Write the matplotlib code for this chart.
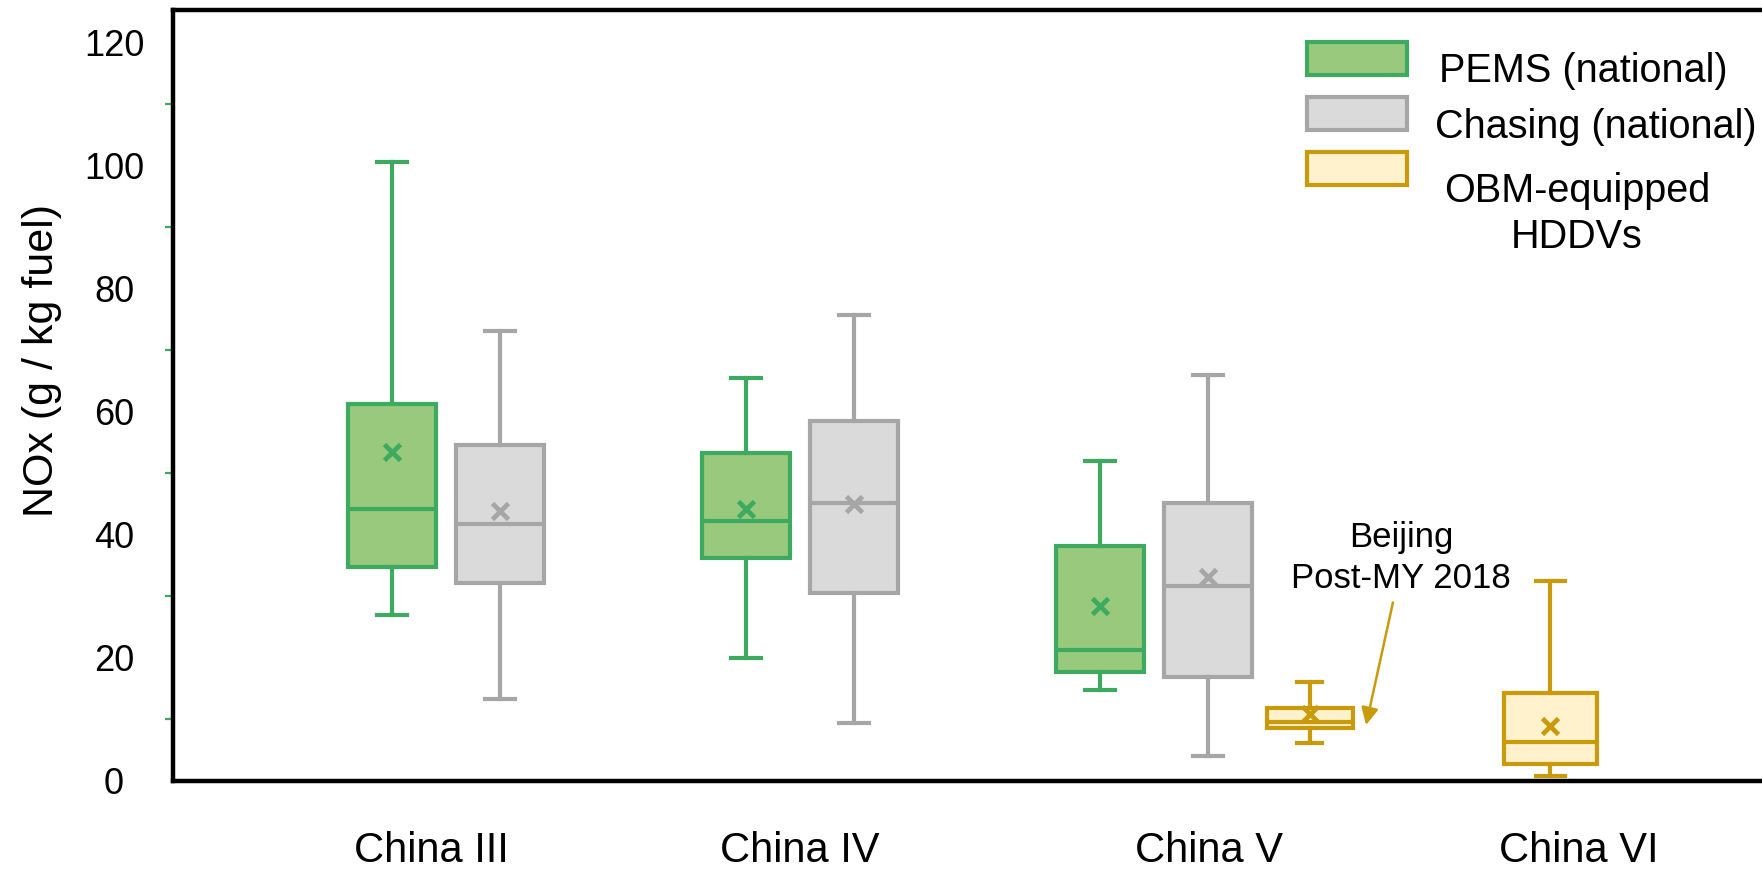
import matplotlib.pyplot as plt
from matplotlib.patches import Rectangle
from matplotlib.ticker import FixedLocator

plt.rcParams['font.family'] = ['Liberation Sans', 'DejaVu Sans']

categories = ['China III', 'China IV', 'China V', 'China VI']

# NOx emission factors, g / kg fuel
# PEMS (national): China III, IV, V
pems_whislo = [27.0, 19.9, 14.8]
pems_q1 = [34.7, 36.2, 17.7]
pems_med = [44.1, 42.3, 21.2]
pems_q3 = [61.3, 53.2, 38.1]
pems_whishi = [100.5, 65.5, 51.9]
pems_mean = [53.5, 44.1, 28.4]

# Chasing (national): China III, IV, V
chase_whislo = [13.3, 9.4, 4.1]
chase_q1 = [32.1, 30.6, 16.9]
chase_med = [41.7, 45.1, 31.6]
chase_q3 = [54.6, 58.5, 45.2]
chase_whishi = [73.1, 75.6, 66.0]
chase_mean = [43.8, 44.9, 33.1]

# OBM-equipped HDDVs: Beijing post-MY 2018 China V, China VI
obm_whislo = [6.1, 0.8]
obm_q1 = [8.6, 2.7]
obm_med = [9.5, 6.3]
obm_q3 = [11.8, 14.3]
obm_whishi = [16.1, 32.4]
obm_mean = [10.8, 9.0]

series_labels = ['PEMS (national)', 'Chasing (national)', 'OBM-equipped\nHDDVs']

# colours
pems_edge, pems_fill = '#3DAA5F', '#98C97C'
chase_edge, chase_fill = '#A6A6A6', '#DADADB'
obm_edge, obm_fill = '#C89A0C', '#FFF2CC'

# layout
group_x = [1.0, 2.0, 3.0]
offset = 0.1525
pems_x = [g - offset for g in group_x]
chase_x = [g + offset for g in group_x]
obm_x = [3.44, 4.12]
label_x = [0.96, 2.0, 3.155, 4.2]


def make_stats(lo, q1, med, q3, hi, mean):
    return [dict(whislo=a, q1=b, med=c, q3=d, whishi=e, mean=f, fliers=[])
            for a, b, c, d, e, f in zip(lo, q1, med, q3, hi, mean)]


def draw_boxes(ax, stats, pos, widths, capw, edge, fill):
    lw = 3.0
    ax.bxp(stats, positions=pos, widths=widths, capwidths=capw,
           patch_artist=True, showmeans=True, showfliers=False,
           manage_ticks=False,
           boxprops=dict(facecolor=fill, edgecolor=edge, linewidth=lw),
           whiskerprops=dict(color=edge, linewidth=lw),
           capprops=dict(color=edge, linewidth=lw),
           medianprops=dict(color=edge, linewidth=lw),
           meanprops=dict(marker='x', markeredgecolor=edge,
                          markersize=11, markeredgewidth=3.4))


W, H = 1762, 869
fig = plt.figure(figsize=(W / 100, H / 100), dpi=100)
ax_l, ax_r, ax_t, ax_b = 173, 1762, 10, 781
ax = fig.add_axes([ax_l / W, (H - ax_b) / H, (ax_r - ax_l) / W, (ax_b - ax_t) / H])

draw_boxes(ax, make_stats(pems_whislo, pems_q1, pems_med, pems_q3, pems_whishi, pems_mean),
           pems_x, 0.246, 0.087, pems_edge, pems_fill)
draw_boxes(ax, make_stats(chase_whislo, chase_q1, chase_med, chase_q3, chase_whishi, chase_mean),
           chase_x, 0.246, 0.087, chase_edge, chase_fill)
draw_boxes(ax, make_stats(obm_whislo, obm_q1, obm_med, obm_q3, obm_whishi, obm_mean),
           obm_x, [0.243, 0.263], [0.07, 0.08], obm_edge, obm_fill)

ax.set_xlim(0.2288, 4.7175)
ax.set_ylim(0, 125.2)

# axes frame: left, top and bottom only
for side in ['left', 'top', 'bottom']:
    ax.spines[side].set_linewidth(3.2)
    ax.spines[side].set_color('black')
ax.spines['right'].set_visible(False)

ax.set_xticks(label_x)
ax.set_xticklabels(categories, fontsize=30)
ax.tick_params(axis='x', length=0, pad=36)

ax.set_yticks(range(0, 121, 20))
ax.tick_params(axis='y', which='major', length=0, pad=42.5, labelsize=26)
for t in ax.get_yticklabels():
    t.set_horizontalalignment('center')
ax.yaxis.set_minor_locator(FixedLocator(list(range(10, 120, 20))))
ax.tick_params(axis='y', which='minor', direction='out', length=6, width=1.6,
               color=pems_edge)

ax.set_ylabel('NOx (g / kg fuel)', fontsize=31)
ax.yaxis.label.set_va('center')
ax.yaxis.set_label_coords(-0.0824, 0.546)

# annotation for the Beijing subset (baseline of the last line)
ax.text(3.698, 31.3, 'Beijing\nPost-MY 2018', ha='center', va='baseline',
        fontsize=25, linespacing=1.3)
ax.annotate('', xy=(3.599, 9.1), xytext=(3.675, 29.0),
            arrowprops=dict(arrowstyle='-|>', color=obm_edge, lw=1.8,
                            mutation_scale=26, shrinkA=0, shrinkB=0))


# legend drawn by hand in the upper right corner
def ax_frac(px, py):
    return (px - ax_l) / (ax_r - ax_l), (ax_b - py) / (ax_b - ax_t)


legend_edges = [pems_edge, chase_edge, obm_edge]
legend_fills = [pems_fill, chase_fill, obm_fill]
patch_tops = [42, 97, 152]
for top, ec, fc in zip(patch_tops, legend_edges, legend_fills):
    x0, y0 = ax_frac(1307, top + 33)
    x1, y1 = ax_frac(1407, top)
    ax.add_patch(Rectangle((x0, y0), x1 - x0, y1 - y0, transform=ax.transAxes,
                           facecolor=fc, edgecolor=ec, linewidth=3.0, clip_on=False))

tx, ty = ax_frac(1439, 82)
ax.text(tx, ty, series_labels[0], transform=ax.transAxes, fontsize=28.5,
        ha='left', va='baseline')
tx, ty = ax_frac(1435, 138)
ax.text(tx, ty, series_labels[1], transform=ax.transAxes, fontsize=28.5,
        ha='left', va='baseline')
tx, ty = ax_frac(1577, 248)
ax.text(tx, ty, series_labels[2], transform=ax.transAxes, fontsize=28.5,
        ha='center', va='baseline', multialignment='center', linespacing=1.25)

fig.savefig('out.png', dpi=100)
